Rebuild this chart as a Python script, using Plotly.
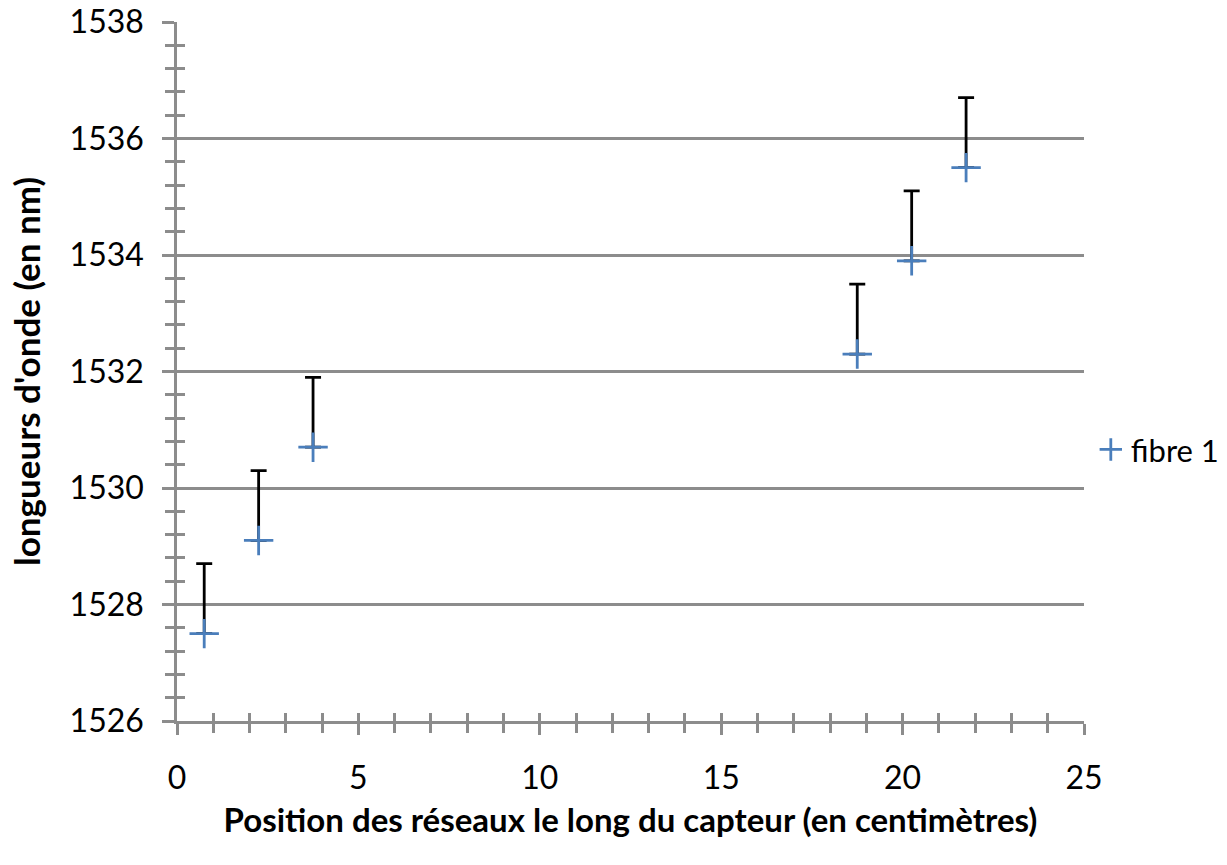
import plotly.graph_objects as go

positions = [0.75, 2.25, 3.75, 18.75, 20.25, 21.75]
wavelengths = [1527.5, 1529.1, 1530.7, 1532.3, 1533.9, 1535.5]
err_plus = [1.2, 1.2, 1.2, 1.2, 1.2, 1.2]
series_name = "fibre 1"
x_title = "Position des réseaux le long du capteur (en centimètres)"
y_title = "longueurs d'onde (en nm)"

FONT = "Lato, Open Sans, sans-serif"
GRAY = "#8c8c8c"
BLUE = "#4a7ebb"

fig = go.Figure()
fig.add_trace(go.Scatter(
    x=positions, y=wavelengths, mode="markers", name=series_name,
    marker=dict(symbol="cross-thin", size=21, color=BLUE,
                line=dict(width=2.8, color=BLUE)),
    error_y=dict(type="data", symmetric=False, array=err_plus,
                 arrayminus=[0] * len(err_plus), color="black",
                 thickness=2.8, width=8),
))
# overlay axes used only to draw inward halves of tick marks
fig.add_trace(go.Scatter(x=[None], y=[None], xaxis="x2", yaxis="y2",
                         showlegend=False, hoverinfo="skip"))

fig.update_layout(
    width=1227, height=865,
    margin=dict(l=177, r=143, t=22, b=144, autoexpand=False),
    paper_bgcolor="white", plot_bgcolor="white",
    font=dict(family=FONT, size=32, color="black"),
    showlegend=True,
    legend=dict(x=1.0075, y=0.388, xanchor="left", yanchor="middle",
                font=dict(size=31), itemwidth=30, bgcolor="rgba(0,0,0,0)"),
    xaxis=dict(range=[0, 25], dtick=5, tick0=0, showgrid=False, automargin=False,
               showline=True, linecolor=GRAY, linewidth=2.5,
               ticks="outside", ticklen=11, tickwidth=2.5, tickcolor=GRAY,
               minor=dict(dtick=1, ticks="outside", ticklen=9, tickwidth=2.5, tickcolor=GRAY),
               zeroline=False, ticklabelstandoff=16, ticklabeloverflow="allow",
               title=dict(text="<b>" + x_title + "</b>", font=dict(size=33), standoff=14)),
    yaxis=dict(range=[1526, 1538], dtick=2, tick0=1526, showgrid=True, automargin=False,
               gridcolor=GRAY, gridwidth=2.5,
               showline=True, linecolor=GRAY, linewidth=2.5,
               ticks="outside", ticklen=12, tickwidth=2.5, tickcolor=GRAY,
               minor=dict(dtick=0.4, ticks="outside", ticklen=9, tickwidth=2.5, tickcolor=GRAY),
               zeroline=False, ticklabelstandoff=12, tickformat="d", ticklabeloverflow="allow",
               title=dict(text="<b>" + y_title + "</b>", font=dict(size=35), standoff=19)),
    xaxis2=dict(range=[0, 25], overlaying="x", anchor="y2", showgrid=False, automargin=False,
                showticklabels=False, ticks="inside", ticklen=8, tickwidth=2.5,
                tickcolor=GRAY, dtick=1, tick0=0, zeroline=False, showline=False),
    yaxis2=dict(range=[1526, 1538], overlaying="y", anchor="x2", showgrid=False, automargin=False,
                showticklabels=False, ticks="inside", ticklen=8, tickwidth=2.5,
                tickcolor=GRAY, dtick=0.4, tick0=1526, zeroline=False, showline=False),
)

fig.write_html("out.html", config={"displayModeBar": False},
               post_script="document.body.style.margin='0';document.body.style.overflow='hidden';")
